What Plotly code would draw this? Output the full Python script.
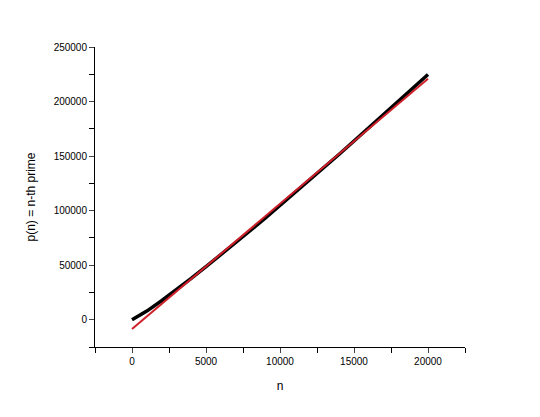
import plotly.graph_objects as go

# n-th prime samples
n = [1, 1000, 2000, 3000, 4000, 5000, 6000, 7000, 8000, 9000, 10000,
     11000, 12000, 13000, 14000, 15000, 16000, 17000, 18000, 19000, 20000]
p_n = [2, 7919, 17389, 27449, 37813, 48611, 59359, 70657, 81799, 93179, 104729,
       116447, 128189, 139901, 151703, 163841, 176081, 187963, 200183, 212369, 224737]

# linear fit
fit_n = [0, 20000]
fit_p = [-8500, 221000]

fig = go.Figure()
fig.add_trace(go.Scatter(x=n, y=p_n, mode='lines', line=dict(color='black', width=3.5)))
fig.add_trace(go.Scatter(x=fit_n, y=fit_p, mode='lines', line=dict(color='#d0202a', width=2)))

axis_font = dict(family='Liberation Sans, Arial', size=10, color='black')
title_font = dict(family='Liberation Sans, Arial', size=12, color='black')
fig.update_layout(
    width=540, height=417, showlegend=False,
    plot_bgcolor='white', paper_bgcolor='white',
    margin=dict(l=87, r=83, t=39, b=78),
    xaxis=dict(range=[-2500, 22500], tickvals=[0, 5000, 10000, 15000, 20000],
               tickformat='d', ticks='outside', ticklen=5, showline=True, linecolor='black',
               showgrid=False, zeroline=False, tickfont=axis_font,
               minor=dict(tickvals=[-2500, 2500, 7500, 12500, 17500, 22500], ticks='outside', ticklen=5, tickcolor='black'),
               title=dict(text='n', font=title_font)),
    yaxis=dict(range=[-25000, 250000], tickvals=[0, 50000, 100000, 150000, 200000, 250000],
               tickformat='d', ticks='outside', ticklen=5, showline=True, linecolor='black',
               showgrid=False, zeroline=False, tickfont=axis_font,
               minor=dict(tickvals=[-25000, 25000, 75000, 125000, 175000, 225000], ticks='outside', ticklen=5, tickcolor='black'),
               title=dict(text='p(n) = n-th prime', font=title_font)),
)

fig.write_html("out.html")
